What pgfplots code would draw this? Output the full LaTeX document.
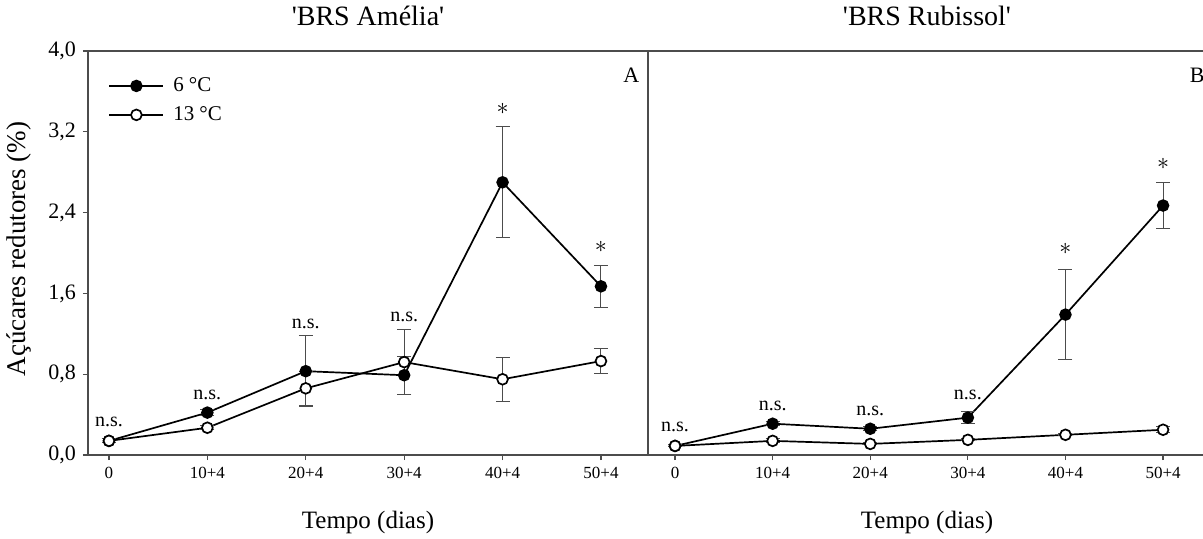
\documentclass[border=0pt]{standalone}
\usepackage{fontspec}
\setmainfont{Liberation Serif}
\usepackage{pgfplots}
\pgfplotsset{compat=1.18}

\tikzset{
  note/.style={font=\fontsize{10}{12}\selectfont, inner sep=0pt},
  star/.style={font=\fontsize{13}{15}\selectfont, inner sep=0pt},
}

\pgfplotsset{
  panel/.style={
    scale only axis, height=202pt,
    ymin=0, ymax=4,
    ytick={0,0.8,1.6,2.4,3.2,4.0},
    xtick={0,1,2,3,4,5},
    xticklabels={0,10+4,20+4,30+4,40+4,50+4},
    tick pos=left, tick align=outside, major tick length=2.5pt,
    axis line style={black!70, line width=0.7pt},
    every tick/.style={black!70, line width=0.6pt},
    xticklabel style={font=\fontsize{8.5}{10}\selectfont},
    yticklabel style={font=\fontsize{11}{13}\selectfont,
      /pgf/number format/.cd, use comma, fixed, fixed zerofill, precision=1, assume math mode=true},
    xlabel={Tempo (dias)},
    xlabel style={font=\fontsize{12.5}{14}\selectfont, at={(axis description cs:0.5,0)}, anchor=center, yshift=-33.5pt},
    title style={font=\fontsize{14}{16}\selectfont, at={(axis description cs:0.5,1)}, anchor=base, yshift=7pt},
    error bars/y dir=both, error bars/y explicit,
    error bars/error bar style={black!70, line width=0.5pt},
    error bars/error mark options={rotate=90, mark size=3.5pt, black!70, line width=0.5pt},
  },
  s6/.style={black, line width=0.85pt, mark=*, mark size=2.7pt, mark options={fill=black, solid}},
  s13/.style={black, line width=0.85pt, mark=*, mark size=2.7pt, mark options={fill=white, solid}},
}

\begin{document}
\begin{tikzpicture}
\useasboundingbox (-44pt,-41.5pt) rectangle (557.5pt,227.5pt);

% painel A
\begin{axis}[panel,
  at={(0pt,0pt)}, anchor=south west, width=280pt,
  xmin=-0.213, xmax=5.478,
  title={\textquotesingle BRS Amélia\textquotesingle},
  ylabel={Açúcares redutores (\%)},
  ylabel style={font=\fontsize{13.5}{15}\selectfont, at={(axis description cs:-0.123,0.51)}, anchor=center},
  legend style={draw=none, fill=none, font=\fontsize{10.5}{12}\selectfont,
    at={(axis description cs:0.036,0.943)}, anchor=north west,
    inner sep=0pt, row sep=3pt, nodes={inner sep=1.5pt},
    /tikz/every odd column/.append style={column sep=3pt}},
  legend cell align=left,
  legend image code/.code={\draw[mark repeat=2,mark phase=2,#1] plot coordinates {(0pt,0pt) (13.5pt,0pt) (27pt,0pt)};},
]
\addplot[s6] table[x=x, y=y, y error=e] {
x y e
0 0.14 0.02
1 0.42 0.03
2 0.83 0.35
3 0.79 0.19
4 2.70 0.55
5 1.67 0.21
};
\addlegendentry{6 °C}
\addplot[s13] table[x=x, y=y, y error=e] {
x y e
0 0.14 0.02
1 0.27 0.02
2 0.66 0.17
3 0.92 0.32
4 0.75 0.22
5 0.93 0.12
};
\addlegendentry{13 °C}
\node[note] at (axis cs:0,0.33) {n.s.};
\node[note] at (axis cs:1,0.59) {n.s.};
\node[note] at (axis cs:2,1.30) {n.s.};
\node[note] at (axis cs:3,1.37) {n.s.};
\node[star] at (axis cs:4,3.43) {$\ast$};
\node[star] at (axis cs:5,2.06) {$\ast$};
\node[font=\fontsize{11}{13}\selectfont] at (axis description cs:0.970,0.941) {A};
\end{axis}

% painel B
\begin{axis}[panel,
  at={(280pt,0pt)}, anchor=south west, width=279pt,
  xmin=-0.277, xmax=5.440,
  ytick=\empty,
  title={\textquotesingle BRS Rubissol\textquotesingle},
]
\addplot[s6] table[x=x, y=y, y error=e] {
x y e
0 0.09 0.01
1 0.31 0.02
2 0.26 0.02
3 0.37 0.06
4 1.39 0.445
5 2.47 0.23
};
\addplot[s13] table[x=x, y=y, y error=e] {
x y e
0 0.09 0.01
1 0.14 0.02
2 0.11 0.01
3 0.15 0.01
4 0.20 0.01
5 0.25 0.03
};
\node[note] at (axis cs:0,0.28) {n.s.};
\node[note] at (axis cs:1,0.49) {n.s.};
\node[note] at (axis cs:2,0.44) {n.s.};
\node[note] at (axis cs:3,0.59) {n.s.};
\node[star] at (axis cs:4,2.04) {$\ast$};
\node[star] at (axis cs:5,2.88) {$\ast$};
\node[font=\fontsize{11}{13}\selectfont] at (axis description cs:0.984,0.941) {B};
\end{axis}
\end{tikzpicture}
\end{document}
